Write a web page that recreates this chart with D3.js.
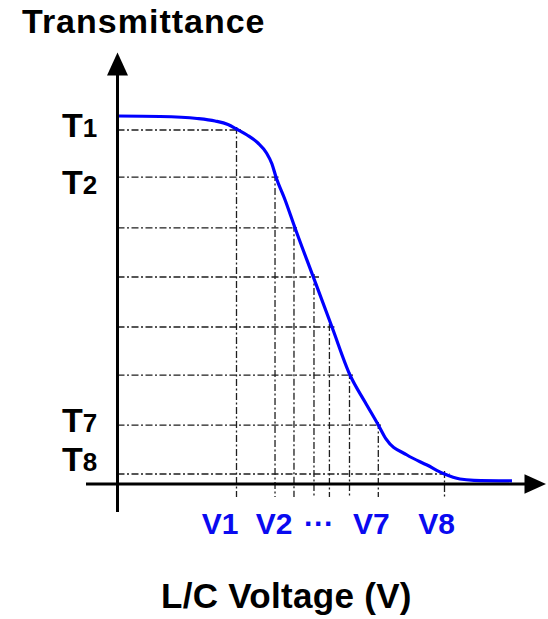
<!DOCTYPE html>
<html>
<head>
<meta charset="utf-8">
<script src="https://cdn.jsdelivr.net/npm/d3@7"></script>
<style>
  html, body { margin: 0; padding: 0; background: #fff; }
  svg { display: block; font-family: "Liberation Sans", Arial, sans-serif; font-weight: bold; }
</style>
</head>
<body>
<script>
// ---- data ----
const curveVoltage = [0, 0.531, 0.994, 1.219, 1.381, 1.4875, 1.619, 1.756, 1.8625, 1.931, 1.981, 2.095, 2.219, 2.4475, 2.681, 2.906, 3.094, 3.26, 3.356, 3.619, 3.869, 4.0875, 4.281, 4.456, 4.931];
const curveTransmittance = [1.0, 0.9986, 0.9932, 0.9864, 0.9769, 0.9647, 0.9484, 0.9266, 0.8995, 0.8696, 0.8342, 0.7717, 0.6957, 0.5625, 0.4266, 0.2962, 0.2228, 0.1603, 0.1223, 0.0788, 0.0516, 0.0272, 0.0136, 0.0101, 0.0087];
const gridVoltage = [1.4875, 1.969, 2.206, 2.456, 2.649, 2.9, 3.26, 4.0875];
const gridTransmittance = [0.962, 0.834, 0.696, 0.5625, 0.4266, 0.296, 0.160, 0.0272];
const tLabelIndex = [0, 1, 6, 7];
const tLabelDigits = ["1", "2", "7", "8"];
const vLabelText = ["V1", "V2", "\u00B7\u00B7\u00B7", "V7", "V8"];
const vLabelIndex = [0, 1, 3, 6, 7];
const titleY = "Transmittance";
const titleX = "L/C Voltage (V)";

// ---- layout ----
const W = 548, H = 619;
const x = d3.scaleLinear().domain([0, 5]).range([117.5, 517.5]);
const y = d3.scaleLinear().domain([0, 1]).range([484, 116]);
const tLabelDy = [7, 17, 7, -3];
const vLabelDx = [-16.5, -1, 5, -7, -8];

const svg = d3.select("body").append("svg").attr("width", W).attr("height", H);

// gridlines
const dash = "7,2.5,2,2.5";
const grid = svg.append("g").attr("stroke", "#1e1e1e").attr("stroke-width", 1.3).attr("stroke-dasharray", dash).attr("fill", "none");
gridTransmittance.forEach((t, i) => {
  grid.append("line")
    .attr("x1", x(0)).attr("x2", x(gridVoltage[i]) + 5)
    .attr("y1", y(t)).attr("y2", y(t));
  grid.append("line")
    .attr("x1", x(gridVoltage[i])).attr("x2", x(gridVoltage[i]))
    .attr("y1", y(t) - 3).attr("y2", y(0) + 13);
});

// curve
const line = d3.line().x((d, i) => x(curveVoltage[i])).y(d => y(d)).curve(d3.curveMonotoneX);
svg.append("path").datum(curveTransmittance)
  .attr("d", line).attr("fill", "none").attr("stroke", "#0000ff").attr("stroke-width", 3.2)
  .attr("stroke-linejoin", "round").attr("stroke-linecap", "butt");

// axes (lines with arrow heads)
const ax = svg.append("g");
const x0 = x(0), y0 = y(0);
ax.append("line").attr("x1", x0).attr("x2", x0).attr("y1", 74).attr("y2", 512)
  .attr("stroke", "#000").attr("stroke-width", 3);
ax.append("path").attr("d", `M${x0},52.5 L${x0 - 10.5},75.5 L${x0 + 10.5},75.5 Z`).attr("fill", "#000");
ax.append("line").attr("x1", 86).attr("x2", 526).attr("y1", y0).attr("y2", y0)
  .attr("stroke", "#000").attr("stroke-width", 3);
ax.append("path").attr("d", `M546,${y0} L524.5,${y0 - 9.8} L524.5,${y0 + 9.8} Z`).attr("fill", "#000");

// T labels
tLabelIndex.forEach((gi, k) => {
  const t = svg.append("text")
    .attr("x", 62).attr("y", y(gridTransmittance[gi]) + tLabelDy[k])
    .attr("fill", "#000");
  t.append("tspan").attr("font-size", 34).text("T");
  t.append("tspan").attr("font-size", 26).text(tLabelDigits[k]);
});

// V labels
vLabelIndex.forEach((gi, k) => {
  svg.append("text")
    .attr("x", x(gridVoltage[gi]) + vLabelDx[k]).attr("y", 534)
    .attr("text-anchor", "middle").attr("font-size", 30).attr("fill", "#0a0af0")
    .text(vLabelText[k]);
});

// titles
svg.append("text").attr("x", 22).attr("y", 33).attr("font-size", 34)
  .attr("letter-spacing", 1).attr("fill", "#000").text(titleY);
svg.append("text").attr("x", 161).attr("y", 608).attr("font-size", 35)
  .attr("letter-spacing", 0.3).attr("fill", "#000").text(titleX);
</script>
</body>
</html>
